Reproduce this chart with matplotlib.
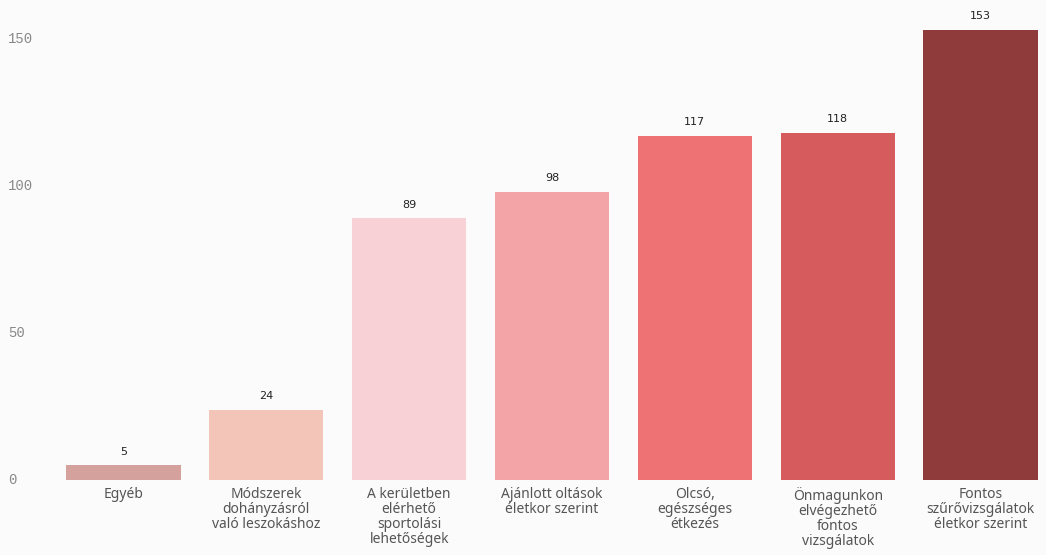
import matplotlib.pyplot as plt
import matplotlib.transforms as mtransforms
import numpy as np

categories = ['Egyéb',
              'Módszerek\ndohányzásról\nvaló leszokáshoz',
              'A kerületben\nelérhető\nsportolási\nlehetőségek',
              'Ajánlott oltások\néletkor szerint',
              'Olcsó,\negészséges\nétkezés',
              'Önmagunkon\nelvégezhető\nfontos\nvizsgálatok',
              'Fontos\nszűrővizsgálatok\néletkor szerint']
values = [5, 24, 89, 98, 117, 118, 153]
yticks = [0, 50, 100, 150]
colors = ['#d4a19d', '#f3c5b9', '#f8d1d7', '#f3a4a7', '#ee7273', '#d65b5d', '#8f3b3b']

fig = plt.figure(figsize=(10.46, 5.55), dpi=100, facecolor='#fbfbfc')
ax = fig.add_axes([52/1046, 0.135, 1000/1046, 0.8477])
ax.set_facecolor('#fbfbfc')

x = np.arange(len(values))
ax.bar(x, values, width=0.8, color=colors)

for xi, v in zip(x, values):
    ax.text(xi, v + 3, str(v), ha='center', va='bottom', fontsize=8, color='#222222')

ax.set_xlim(-0.5, 6.5)
ax.set_ylim(0, 160)
ax.set_yticks([])
ax.set_xticks(x)
ax.set_xticklabels(categories, fontsize=10, color='#555555', linespacing=1.0,
                   fontfamily='Noto Sans', fontweight='medium')

trans = mtransforms.blended_transform_factory(fig.transFigure, ax.transData)
for t in yticks:
    ax.text(8/1046, t, str(t), transform=trans, ha='left', va='center',
            fontfamily='Liberation Mono', fontsize=10, color='#888888')

ax.tick_params(axis='both', length=0)
ax.tick_params(axis='x', pad=5)
for s in ax.spines.values():
    s.set_visible(False)

fig.savefig('out.png', dpi=100, facecolor=fig.get_facecolor())
